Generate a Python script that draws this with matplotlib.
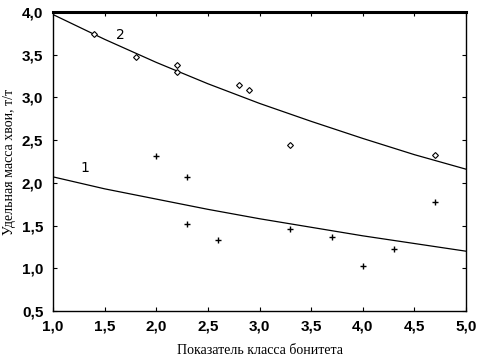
import numpy as np
import matplotlib
matplotlib.use("Agg")
import matplotlib.pyplot as plt
from matplotlib.ticker import FuncFormatter

# measured points, series 1 (+) and series 2 (open diamonds)
x1 = [2.0, 2.3, 2.3, 2.6, 3.3, 3.7, 4.0, 4.3, 4.7]
y1 = [2.31, 2.07, 1.52, 1.33, 1.46, 1.37, 1.03, 1.22, 1.78]
x2 = [1.4, 1.8, 2.2, 2.2, 2.8, 2.9, 3.3, 4.7]
y2 = [3.74, 3.47, 3.38, 3.30, 3.15, 3.09, 2.44, 2.33]

# fitted curves
xc = [1.0, 1.5, 2.0, 2.5, 3.0, 3.5, 4.0, 4.5, 5.0]
c1 = [2.07, 1.93, 1.81, 1.69, 1.58, 1.48, 1.38, 1.29, 1.20]
c2 = [3.97, 3.68, 3.41, 3.16, 2.93, 2.72, 2.52, 2.33, 2.16]

fig = plt.figure(figsize=(4.79, 3.59), dpi=100)
ax = fig.add_axes([0.1107, 0.1337, 0.8622, 0.8329])

ax.plot(xc, c1, color="black", lw=0.9)
ax.plot(xc, c2, color="black", lw=0.9)
ax.plot(x1, y1, "+", color="black", ms=5, mew=1)
ax.plot(x2, y2, "D", mfc="white", mec="black", ms=3, mew=0.8)

ax.text(1.31, 2.17, "1", fontsize=10, ha="center", va="center")
ax.text(1.65, 3.73, "2", fontsize=10, ha="center", va="center")

ax.set_xlim(1.0, 5.0)
ax.set_ylim(0.5, 4.0)
ax.set_xticks(np.arange(1.0, 5.01, 0.5))
ax.set_yticks(np.arange(0.5, 4.01, 0.5))
fmt = FuncFormatter(lambda v, p: ("%.1f" % v).replace(".", ","))
ax.xaxis.set_major_formatter(fmt)
ax.yaxis.set_major_formatter(fmt)
ax.tick_params(direction="in", length=3, top=True, right=True, width=0.8)
ax.tick_params(axis="x", pad=6)
ax.tick_params(axis="y", pad=7)
for lab in ax.get_xticklabels() + ax.get_yticklabels():
    lab.set_family("Liberation Sans")
    lab.set_fontweight("bold")
    lab.set_fontsize(11)

for s in ax.spines.values():
    s.set_linewidth(1)
ax.spines["top"].set_linewidth(2.2)

ax.set_xlabel("Показатель класса бонитета", family="Liberation Serif", fontsize=10, labelpad=8)
ax.set_ylabel("Удельная масса хвои, т/т", family="Liberation Serif", fontsize=10, labelpad=4)

fig.savefig("out.png", dpi=100)
